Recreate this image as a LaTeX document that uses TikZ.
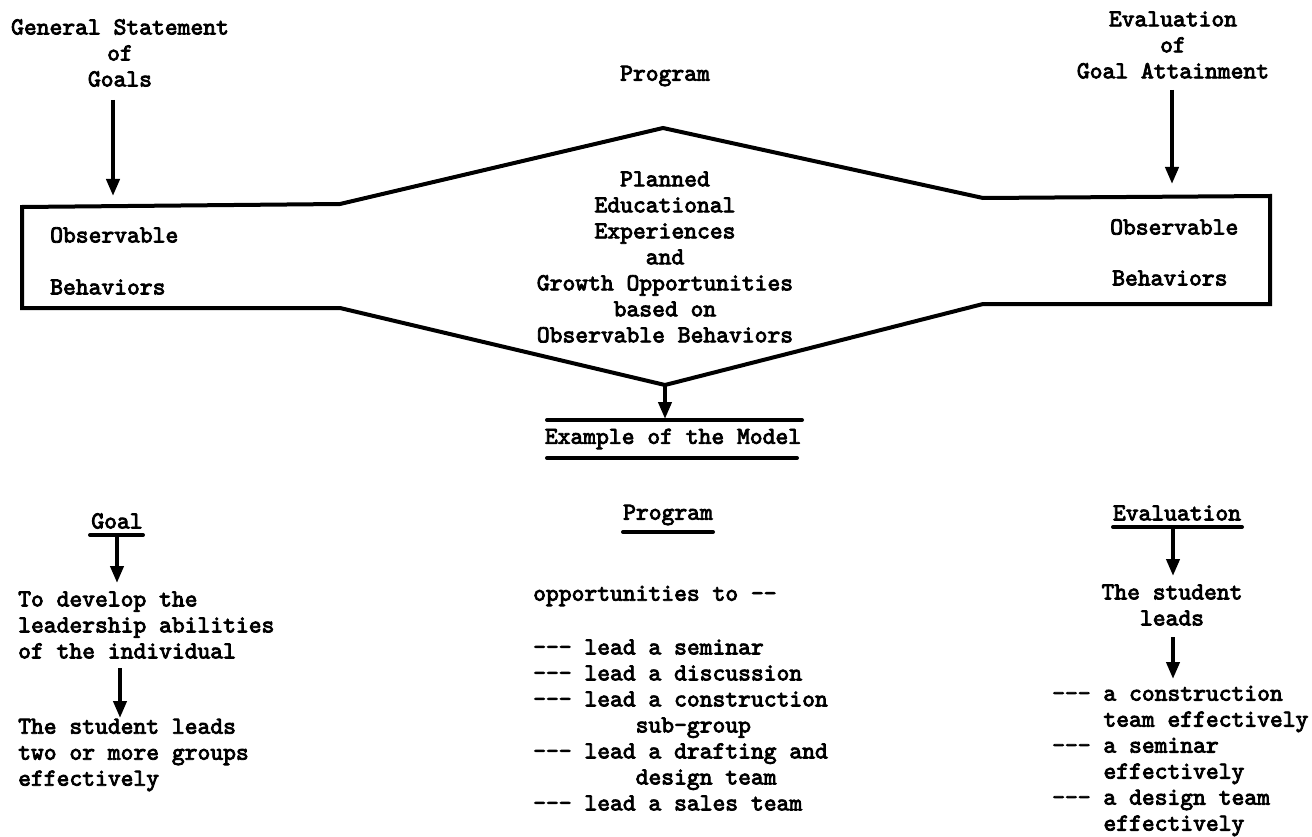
\documentclass[tikz,border=0pt]{standalone}
\usepackage{fontspec}
\setmonofont{lmmono10-regular}[Extension=.otf, FakeBold=3.4]
\usetikzlibrary{arrows.meta}
\begin{document}
\begin{tikzpicture}[x=1pt,y=-1pt,
  txt/.style={font=\ttfamily\fontsize{24.4}{26}\selectfont, inner sep=0pt, align=center},
  ltxt/.style={txt, align=left},
  outline/.style={line width=4pt, line join=miter},
  arr/.style={line width=4pt, -{Triangle[width=13pt,length=17pt]}},
  uline/.style={line width=4pt, line cap=round}]
\useasboundingbox (0,0) rectangle (1312,837);

% top texts
\node[txt] (gen) at (120,53) {General Statement\\of\\Goals};
\node[txt] (evt) at (1173,45) {Evaluation\\of\\Goal Attainment};
\node[txt] (prog) at (665,76) {Program};

% model shape
\coordinate (tl) at (22,207);
\coordinate (k1) at (340,204);
\coordinate (top) at (663,128);
\coordinate (k2) at (983,198);
\coordinate (tr) at (1270,196);
\coordinate (br) at (1270,304);
\coordinate (k3) at (983,304);
\coordinate (bot) at (665,385);
\coordinate (k4) at (340,308);
\coordinate (bl) at (22,308);
\draw[outline] (tl) -- (k1) -- (top) -- (k2) -- (tr) -- (br) -- (k3) -- (bot) -- (k4) -- (bl) -- cycle;

\node[txt] (plan) at (665,257) {Planned\\Educational\\Experiences\\and\\Growth Opportunities\\based on\\Observable Behaviors};
\node[txt,anchor=west] (lobs) at (50,235) {Observable};
\node[txt,anchor=west] (lbeh) at (50,287) {Behaviors};
\node[txt,anchor=west] (robs) at (1110,227) {Observable};
\node[txt,anchor=west] (rbeh) at (1112,278) {Behaviors};

% top arrows
\coordinate (las) at (113,100);
\coordinate (lae) at (113,196);
\coordinate (ras) at (1172,90);
\coordinate (rae) at (1172,184);
\draw[arr] (las) -- (lae);
\draw[arr] (ras) -- (rae);

% example of the model
\node[txt] (ex) at (673,439) {Example of the Model};
\coordinate (ex1a) at (547,420);
\coordinate (ex1b) at (802,420);
\coordinate (ex2a) at (547,458);
\coordinate (ex2b) at (797,458);
\draw[uline] (ex1a) -- (ex1b);
\draw[uline] (ex2a) -- (ex2b);
\coordinate (exa) at (665,419);
\draw[arr] (bot) -- (exa);

% Goal column
\node[txt] (goal) at (117,521) {Goal};
\coordinate (gula) at (90,535);
\coordinate (gulb) at (143,535);
\draw[uline] (gula) -- (gulb);
\node[ltxt,anchor=west] (g1) at (18,625) {To develop the\\leadership abilities\\of the individual};
\node[ltxt,anchor=west] (g2) at (18,755) {The student leads\\two or more groups\\effectively};
\coordinate (ga1s) at (117,535);
\coordinate (ga1e) at (117,583);
\coordinate (ga2s) at (120,668);
\coordinate (ga2e) at (120,718);
\draw[arr] (ga1s) -- (ga1e);
\draw[arr] (ga2s) -- (ga2e);

% Program column
\node[txt] (bprog) at (668,515) {Program};
\coordinate (pula) at (623,532);
\coordinate (pulb) at (713,532);
\draw[uline] (pula) -- (pulb);
\node[txt,anchor=west] (opp) at (533,596) {opportunities to --};
\node[ltxt,anchor=west] (plist) at (533,725) {--- lead a seminar\\--- lead a discussion\\--- lead a construction\\\hphantom{--------}sub-group\\--- lead a drafting and\\\hphantom{--------}design team\\--- lead a sales team};

% Evaluation column
\node[txt] (bev) at (1177,513) {Evaluation};
\coordinate (eula) at (1113,527);
\coordinate (eulb) at (1242,527);
\draw[uline] (eula) -- (eulb);
\node[txt] (stu) at (1172,605) {The student\\leads};
\node[ltxt,anchor=west] (elist) at (1052,761) {--- a construction\\\hphantom{----}team effectively\\--- a seminar\\\hphantom{----}effectively\\--- a design team\\\hphantom{----}effectively};
\coordinate (ea1s) at (1173,527);
\coordinate (ea1e) at (1173,576);
\coordinate (ea2s) at (1173,637);
\coordinate (ea2e) at (1173,679);
\draw[arr] (ea1s) -- (ea1e);
\draw[arr] (ea2s) -- (ea2e);
\end{tikzpicture}
\end{document}
